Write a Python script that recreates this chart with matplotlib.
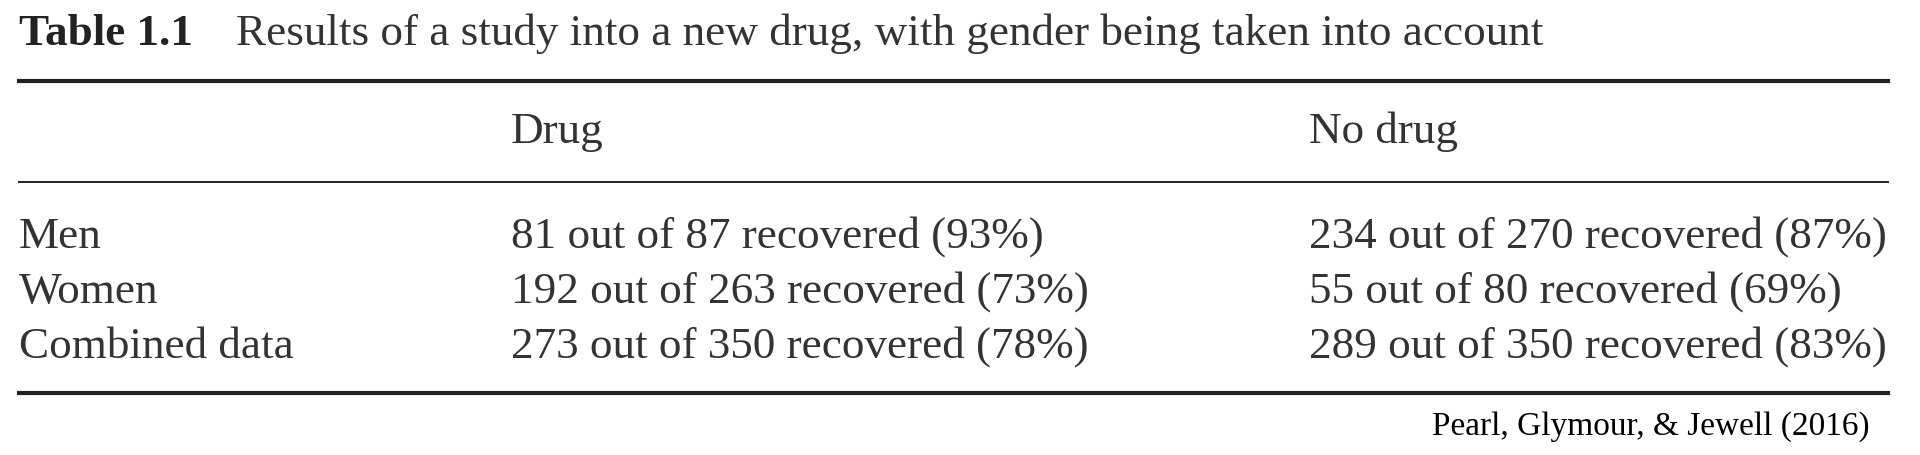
import matplotlib
matplotlib.use('Agg')
import matplotlib.pyplot as plt

plt.rcParams['font.family'] = ['Liberation Serif', 'DejaVu Serif']

title_label = 'Table 1.1'
title_text = 'Results of a study into a new drug, with gender being taken into account'
columns = ['Drug', 'No drug']
rows = ['Men', 'Women', 'Combined data']
drug_recovered = [81, 192, 273]
drug_total = [87, 263, 350]
drug_pct = [93, 73, 78]
nodrug_recovered = [234, 55, 289]
nodrug_total = [270, 80, 350]
nodrug_pct = [87, 69, 83]
source = 'Pearl, Glymour, & Jewell (2016)'

W, H = 1920, 456
fig = plt.figure(figsize=(W / 100, H / 100), dpi=100)
fig.patch.set_facecolor('white')


def fx(x):
    return x / W


def fy(y):
    return 1 - y / H


def hline(y, lw):
    fig.add_artist(plt.Line2D([fx(19), fx(1888)], [fy(y), fy(y)], color='#222222', lw=lw))


fs = 32.5
color = '#333333'
fig.text(fx(19), fy(34), title_label, fontsize=fs, fontweight='bold', va='center', color='#222222')
fig.text(fx(236), fy(34), title_text, fontsize=fs, va='center', color=color)
hline(82, 3.0)
col_x = [511, 1309]
for x, c in zip(col_x, columns):
    fig.text(fx(x), fy(132), c, fontsize=fs, va='center', color=color)
hline(183, 1.4)
row_y = [237, 292, 347]
for i, (y, r) in enumerate(zip(row_y, rows)):
    fig.text(fx(19), fy(y), r, fontsize=fs, va='center', color=color)
    fig.text(fx(col_x[0]), fy(y),
             f'{drug_recovered[i]} out of {drug_total[i]} recovered ({drug_pct[i]}%)',
             fontsize=fs, va='center', color=color)
    fig.text(fx(col_x[1]), fy(y),
             f'{nodrug_recovered[i]} out of {nodrug_total[i]} recovered ({nodrug_pct[i]}%)',
             fontsize=fs, va='center', color=color)
hline(394, 3.0)
fig.text(fx(1870), fy(427), source, fontsize=24, ha='right', va='center', color='black')

fig.savefig('out.png', dpi=100, facecolor='white')
